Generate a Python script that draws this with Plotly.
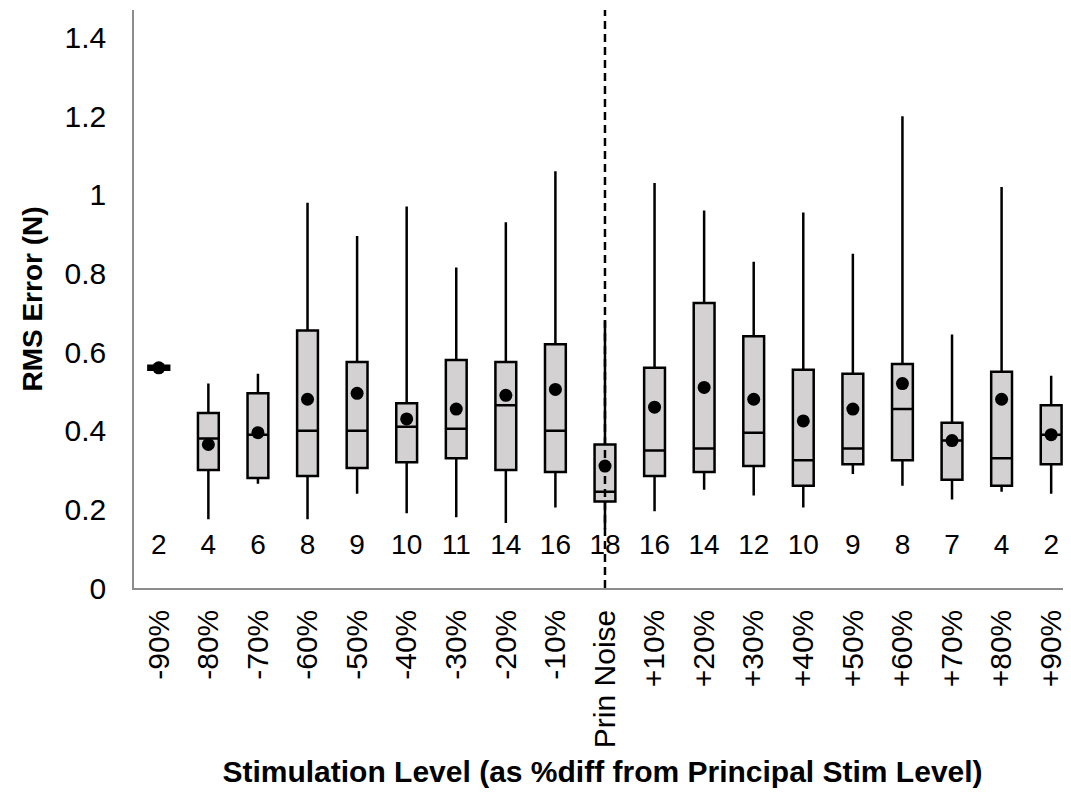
import plotly.graph_objects as go

categories = ["-90%", "-80%", "-70%", "-60%", "-50%", "-40%", "-30%", "-20%", "-10%",
              "Prin Noise", "+10%", "+20%", "+30%", "+40%", "+50%", "+60%", "+70%", "+80%", "+90%"]
counts = [2, 4, 6, 8, 9, 10, 11, 14, 16, 18, 16, 14, 12, 10, 9, 8, 7, 4, 2]
whisker_low = [0.553, 0.175, 0.265, 0.175, 0.24, 0.19, 0.18, 0.165, 0.205, 0.15,
               0.195, 0.25, 0.235, 0.205, 0.29, 0.26, 0.225, 0.245, 0.24]
q1 = [0.555, 0.30, 0.28, 0.285, 0.305, 0.32, 0.33, 0.30, 0.295, 0.22,
      0.285, 0.295, 0.31, 0.26, 0.315, 0.325, 0.275, 0.26, 0.315]
median = [0.56, 0.38, 0.39, 0.40, 0.40, 0.41, 0.405, 0.465, 0.40, 0.245,
          0.35, 0.355, 0.395, 0.325, 0.355, 0.455, 0.375, 0.33, 0.39]
q3 = [0.565, 0.445, 0.495, 0.655, 0.575, 0.47, 0.58, 0.575, 0.62, 0.365,
      0.56, 0.725, 0.64, 0.555, 0.545, 0.57, 0.42, 0.55, 0.465]
whisker_high = [0.567, 0.52, 0.545, 0.98, 0.895, 0.97, 0.815, 0.93, 1.06, 0.68,
                1.03, 0.96, 0.83, 0.955, 0.85, 1.20, 0.645, 1.02, 0.54]
means = [0.56, 0.365, 0.395, 0.48, 0.495, 0.43, 0.455, 0.49, 0.505, 0.31,
         0.46, 0.51, 0.48, 0.425, 0.455, 0.52, 0.375, 0.48, 0.39]
count_label_y = 0.105
y_ticks = [0, 0.2, 0.4, 0.6, 0.8, 1, 1.2, 1.4]
y_tick_text = ["0", "0.2", "0.4", "0.6", "0.8", "1", "1.2", "1.4"]

FONT = "Liberation Sans, Arial, sans-serif"

fig = go.Figure()
fig.add_trace(go.Box(
    x=categories, q1=q1, median=median, q3=q3,
    lowerfence=whisker_low, upperfence=whisker_high,
    fillcolor="#d3d1d2", line=dict(color="black", width=2.5),
    whiskerwidth=0, boxpoints=False, showlegend=False, hoverinfo="skip",
))
fig.add_trace(go.Scatter(
    x=categories, y=means, mode="markers",
    marker=dict(color="black", size=13), showlegend=False,
))
fig.add_trace(go.Scatter(
    x=categories, y=[count_label_y] * len(categories), mode="text",
    text=[str(c) for c in counts], textposition="middle center",
    textfont=dict(family=FONT, size=28, color="black"),
    showlegend=False,
))
fig.add_shape(type="line", xref="x", yref="paper", x0=9, x1=9, y0=0, y1=1,
              line=dict(color="black", width=2.5, dash="8px,5px"))

fig.update_layout(
    width=1063, height=792,
    margin=dict(l=126, r=0, t=2, b=212),
    paper_bgcolor="white", plot_bgcolor="white",
    boxgap=0.4,
    font=dict(family=FONT, color="black"),
    xaxis=dict(
        type="category", range=[-0.5, 18.4],
        showline=True, linecolor="#8c8c8c", linewidth=1.5, showgrid=False,
        tickangle=-90, tickfont=dict(size=30), ticks="", ticklabelstandoff=8,
        title=dict(text="<b>Stimulation Level (as %diff from Principal Stim Level)</b>",
                   font=dict(family=FONT, size=30), standoff=14),
    ),
    yaxis=dict(
        range=[0, 1.47], tickvals=y_ticks, ticktext=y_tick_text,
        showline=True, linecolor="#8c8c8c", linewidth=1.5, showgrid=False, zeroline=False,
        tickfont=dict(size=30), ticks="", ticklabelstandoff=20,
        title=dict(text="<b>RMS Error (N)</b>", font=dict(family=FONT, size=28), standoff=14),
    ),
)
fig.write_html("out.html")
